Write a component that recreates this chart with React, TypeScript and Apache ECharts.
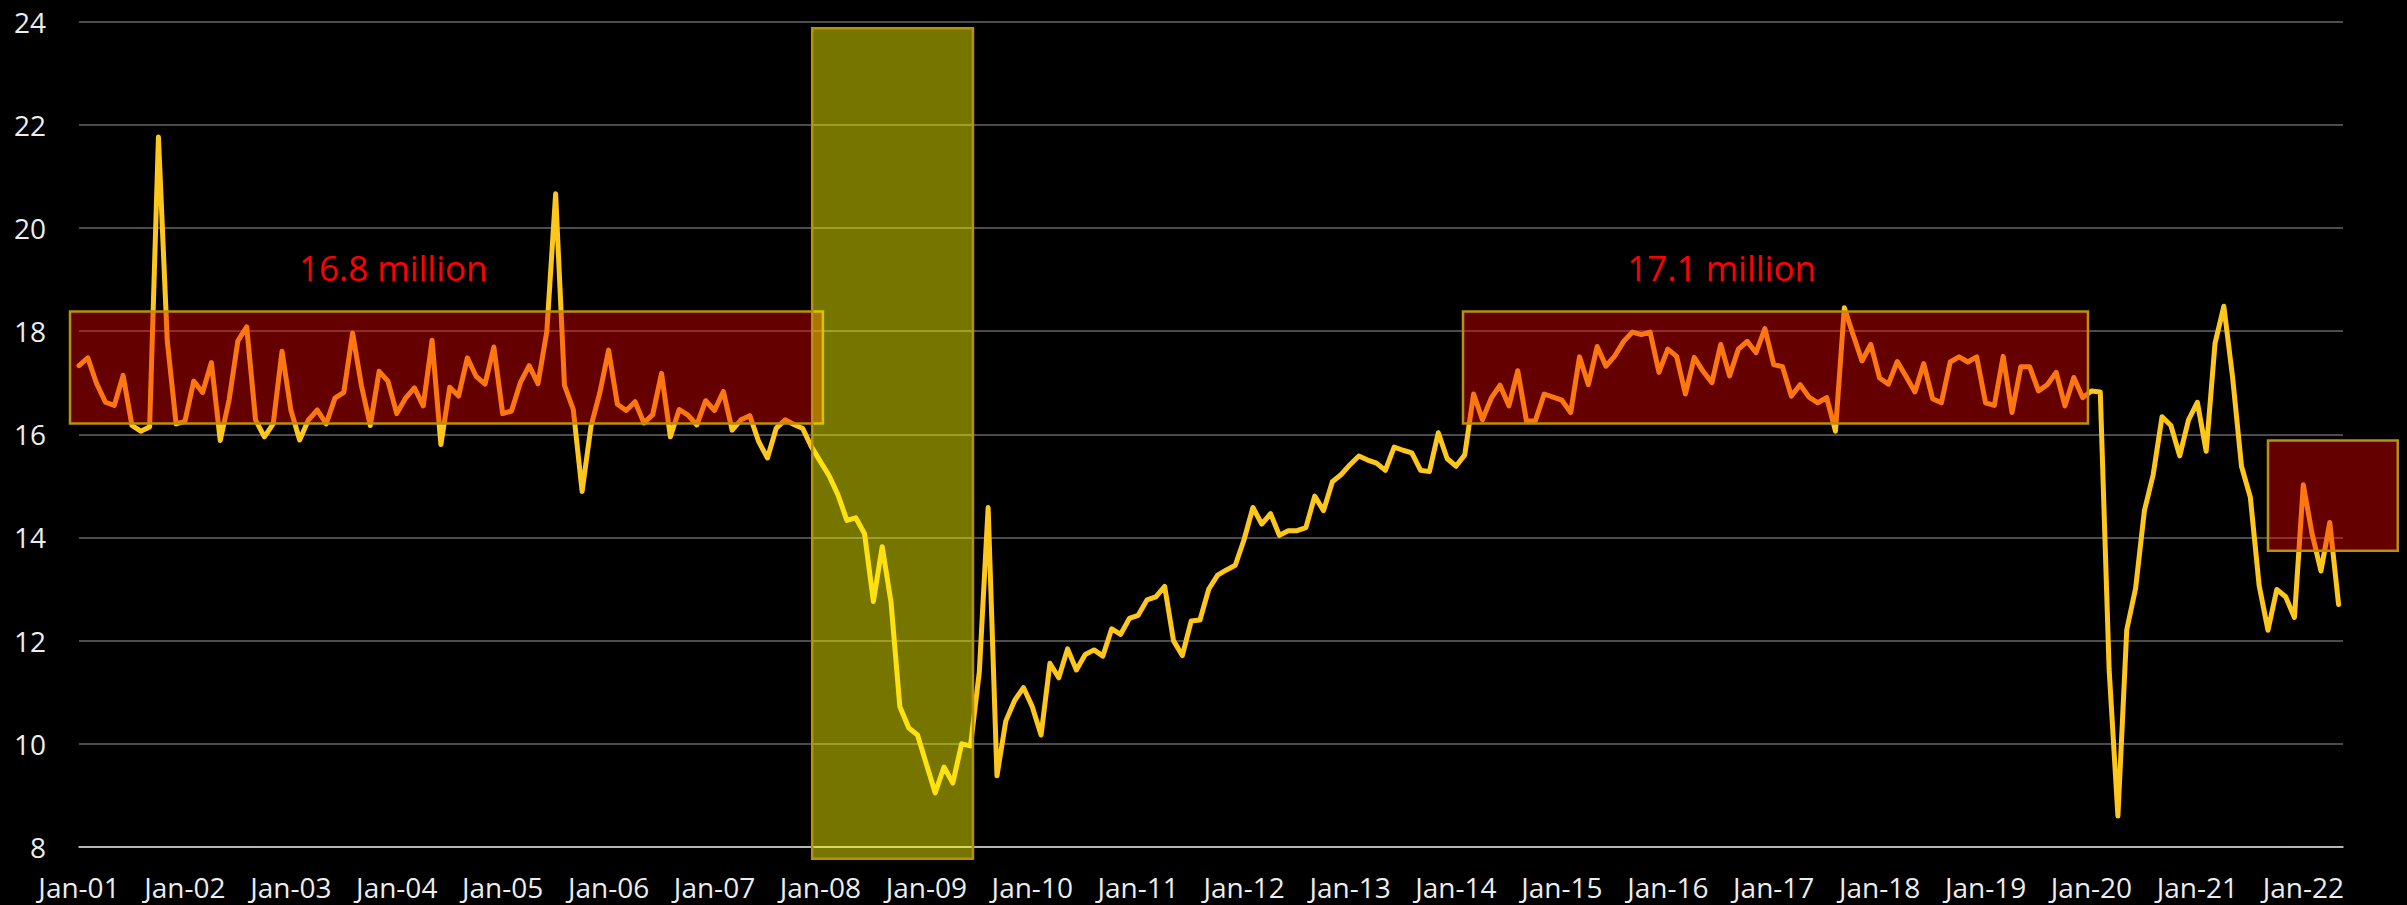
import React, { useEffect, useRef } from "react";
import * as echarts from "echarts";

// Monthly US light-vehicle sales (SAAR, millions), Jan-01 .. May-22
const sales: number[] = [
  // 2001
  17.33, 17.48, 16.98, 16.62, 16.56, 17.14, 16.17, 16.06, 16.14, 21.76, 17.81, 16.2,
  // 2002
  16.25, 17.03, 16.81, 17.39, 15.88, 16.66, 17.81, 18.08, 16.28, 15.95, 16.2, 17.61,
  // 2003
  16.47, 15.89, 16.28, 16.47, 16.2, 16.7, 16.81, 17.96, 16.94, 16.17, 17.22, 17.03,
  // 2004
  16.4, 16.7, 16.9, 16.55, 17.82, 15.8, 16.91, 16.74, 17.48, 17.12, 16.97, 17.69,
  // 2005
  16.4, 16.45, 17.0, 17.33, 16.98, 17.99, 20.66, 16.95, 16.48, 14.89, 16.15, 16.8,
  // 2006
  17.63, 16.58, 16.46, 16.63, 16.22, 16.38, 17.18, 15.95, 16.48, 16.37, 16.18, 16.65,
  // 2007
  16.46, 16.83, 16.08, 16.28, 16.36, 15.86, 15.54, 16.12, 16.28, 16.19, 16.11, 15.75,
  // 2008
  15.47, 15.19, 14.82, 14.33, 14.38, 14.07, 12.76, 13.82, 12.74, 10.72, 10.31, 10.17,
  // 2009
  9.61, 9.05, 9.55, 9.24, 10.0, 9.96, 11.39, 14.58, 9.38, 10.44, 10.84, 11.09,
  // 2010
  10.72, 10.17, 11.56, 11.28, 11.84, 11.43, 11.73, 11.82, 11.7, 12.23, 12.12, 12.43,
  // 2011
  12.49, 12.79, 12.85, 13.05, 12.0, 11.71, 12.38, 12.4, 13.0, 13.27, 13.37, 13.46,
  // 2012
  13.96, 14.58, 14.26, 14.46, 14.04, 14.13, 14.13, 14.19, 14.8, 14.52, 15.08, 15.22,
  // 2013
  15.41, 15.58, 15.5, 15.44, 15.3, 15.75, 15.69, 15.64, 15.3, 15.28, 16.03, 15.53,
  // 2014
  15.38, 15.6, 16.78, 16.28, 16.7, 16.95, 16.55, 17.23, 16.25, 16.26, 16.78, 16.72,
  // 2015
  16.66, 16.42, 17.5, 16.96, 17.7, 17.32, 17.52, 17.8, 17.98, 17.93, 17.98, 17.2,
  // 2016
  17.65, 17.51, 16.78, 17.49, 17.22, 17.0, 17.74, 17.13, 17.65, 17.8, 17.58, 18.05,
  // 2017
  17.35, 17.31, 16.74, 16.96, 16.72, 16.61, 16.71, 16.06, 18.45, 17.93, 17.42, 17.74,
  // 2018
  17.09, 16.97, 17.41, 17.12, 16.82, 17.37, 16.69, 16.61, 17.4, 17.5, 17.4, 17.5,
  // 2019
  16.61, 16.56, 17.51, 16.42, 17.31, 17.31, 16.84, 16.96, 17.2, 16.55, 17.1, 16.71,
  // 2020
  16.84, 16.82, 11.45, 8.6, 12.21, 13.01, 14.52, 15.22, 16.34, 16.17, 15.58, 16.28,
  // 2021
  16.62, 15.67, 17.76, 18.48, 17.09, 15.38, 14.78, 13.07, 12.2, 12.99, 12.85, 12.45,
  // 2022
  15.02, 14.07, 13.35, 14.29, 12.7,
];

// x-axis tick labels, one every 12 months starting at month index 0
const tickLabels: string[] = [
  "Jan-01", "Jan-02", "Jan-03", "Jan-04", "Jan-05", "Jan-06", "Jan-07", "Jan-08",
  "Jan-09", "Jan-10", "Jan-11", "Jan-12", "Jan-13", "Jan-14", "Jan-15", "Jan-16",
  "Jan-17", "Jan-18", "Jan-19", "Jan-20", "Jan-21", "Jan-22",
];

// Highlight boxes: [monthStart, monthEnd, valueLow, valueHigh]
const redBoxes: number[][] = [
  [-1.02, 84.28, 16.21, 18.38],
  [156.8, 227.6, 16.21, 18.38],
  [248.0, 262.7, 13.74, 15.88],
];
const recessionBox: number[][] = [[83.07, 101.28, 7.77, 23.87]];

// Annotations: [month, value]
const annotationPos: number[][] = [
  [35.6, 19.24],
  [186.1, 19.24],
];
const annotationText: string[] = ["16.8 million", "17.1 million"];

const FONT = "'Open Sans', 'Liberation Sans', sans-serif";

function boxRenderer(fill: string, stroke: string) {
  return (params: any, api: any) => {
    const tl = api.coord([api.value(0), api.value(3)]);
    const br = api.coord([api.value(1), api.value(2)]);
    return {
      type: "rect",
      shape: { x: tl[0], y: tl[1], width: br[0] - tl[0], height: br[1] - tl[1] },
      style: { fill, stroke, lineWidth: 2.5 },
    };
  };
}

export default function App() {
  const ref = useRef<HTMLDivElement>(null);

  useEffect(() => {
    if (!ref.current) return;
    const chart = echarts.init(ref.current, undefined, { renderer: "svg" });
    const lineData = sales.map((v, i) => [i, v]);

    chart.setOption({
      animation: false,
      backgroundColor: "#000000",
      grid: { left: 79, right: 64, top: 21.5, bottom: 58, containLabel: false },
      xAxis: {
        type: "value",
        min: 0,
        max: 256.5,
        interval: 12,
        axisLine: { show: true, lineStyle: { color: "#D9D9D9", width: 1.5 } },
        axisTick: { show: false },
        splitLine: { show: false },
        axisLabel: {
          color: "#EDEDED",
          fontSize: 28,
          fontFamily: FONT,
          margin: 26,
          showMaxLabel: false,
          formatter: (v: number) => {
            if (v % 12 !== 0) return "";
            return tickLabels[v / 12] ?? "";
          },
        },
      },
      yAxis: {
        type: "value",
        min: 8,
        max: 24,
        interval: 2,
        axisLine: { show: false },
        axisTick: { show: false },
        splitLine: { show: true, lineStyle: { color: "#666666", width: 1.5 } },
        axisLabel: { color: "#EDEDED", fontSize: 28, fontFamily: FONT, margin: 33 },
      },
      series: [
        {
          type: "line",
          data: lineData,
          showSymbol: false,
          symbol: "none",
          z: 2,
          lineStyle: { color: "#FFC71C", width: 5, join: "round", cap: "round" },
        },
        {
          type: "custom",
          clip: false,
          z: 3,
          encode: { x: [0, 1], y: [2, 3] },
          data: redBoxes,
          renderItem: boxRenderer("rgba(250,0,0,0.4)", "#B8900A"),
        },
        {
          type: "custom",
          clip: false,
          z: 4,
          encode: { x: [0, 1], y: [2, 3] },
          data: recessionBox,
          renderItem: boxRenderer("rgba(255,255,0,0.46)", "#B8900A"),
        },
        {
          type: "custom",
          clip: false,
          z: 5,
          data: annotationPos,
          renderItem: (params: any, api: any) => {
            const p = api.coord([api.value(0), api.value(1)]);
            return {
              type: "text",
              x: p[0],
              y: p[1],
              style: {
                text: annotationText[params.dataIndex],
                fill: "#FF0000",
                fontSize: 35,
                fontFamily: FONT,
                align: "center",
                verticalAlign: "middle",
              },
            };
          },
        },
      ],
    });

    return () => chart.dispose();
  }, []);

  return (
    <div
      ref={ref}
      style={{ position: "fixed", left: 0, top: 0, width: 2407, height: 905 }}
    />
  );
}
